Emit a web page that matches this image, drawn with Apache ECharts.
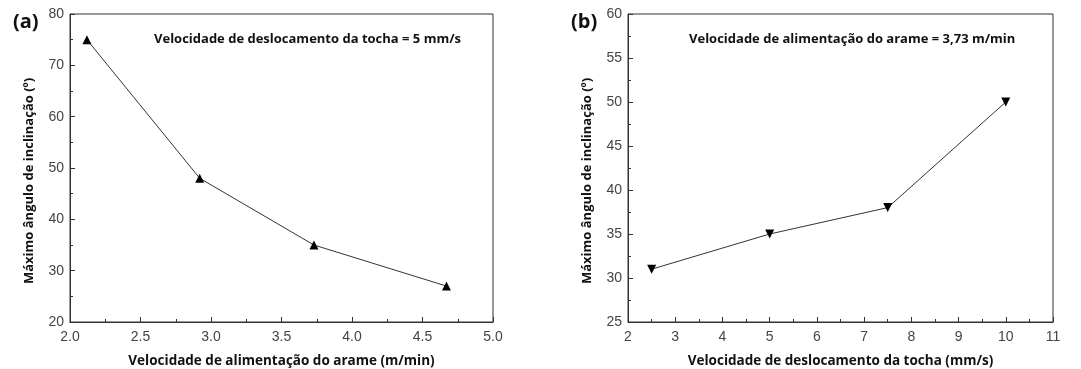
<!DOCTYPE html>
<html>
<head>
<meta charset="utf-8">
<script src="https://cdn.jsdelivr.net/npm/echarts@6/dist/echarts.min.js"></script>
<style>
  html, body { margin: 0; padding: 0; background: #fff; }
  #chart { width: 1081px; height: 369px; }
</style>
</head>
<body>
<div id="chart"></div>
<script>
// (a) velocidade do arame vs angulo
const feedSpeed = [2.12, 2.92, 3.73, 4.67]
const angleA = [75, 48, 35, 27]
// (b) velocidade da tocha vs angulo
const torchSpeed = [2.5, 5, 7.5, 10]
const angleB = [31, 35, 38, 50]

const labelFont = 'Liberation Sans, Arial, sans-serif'
const boldFont = 'Open Sans, Lato, sans-serif'
const yTitle = 'Máximo ângulo de inclinação (º)'

function xAxisCfg(gridIndex, min, max, interval, name, fmt) {
  return {
    type: 'value', gridIndex, min, max, interval,
    name, nameLocation: 'middle', nameGap: 32,
    nameTextStyle: { fontFamily: boldFont, fontWeight: 'bold', fontSize: 13.5, color: '#111' },
    axisLine: { lineStyle: { color: '#333', width: 1 } },
    axisTick: { inside: true, length: 5, lineStyle: { color: '#333' } },
    minorTick: { show: true, splitNumber: 2, length: 3, lineStyle: { color: '#333' } },
    axisLabel: { fontFamily: labelFont, fontSize: 14, color: '#444', margin: 8, formatter: fmt },
    splitLine: { show: false }
  }
}

function yAxisCfg(gridIndex, min, max, interval) {
  return {
    type: 'value', gridIndex, min, max, interval,
    axisLine: { show: true, lineStyle: { color: '#333', width: 1 } },
    axisTick: { show: true, inside: true, length: 5, lineStyle: { color: '#333' } },
    minorTick: { show: true, splitNumber: 2, length: 3, lineStyle: { color: '#333' } },
    axisLabel: { fontFamily: labelFont, fontSize: 14, color: '#444', margin: 6 },
    splitLine: { show: false }
  }
}

function yTitleText(x) {
  return {
    type: 'text', x, y: 181, rotation: Math.PI / 2,
    style: {
      text: yTitle, align: 'center', verticalAlign: 'middle',
      font: 'bold 13px ' + boldFont, fill: '#111'
    }
  }
}

const chart = echarts.init(document.getElementById('chart'))
chart.setOption({
  animation: false,
  backgroundColor: '#fff',
  title: [
    { text: '(a)', left: 8, top: 7, textStyle: { fontFamily: boldFont, fontWeight: 'bold', fontSize: 20, color: '#111' } },
    { text: '(b)', left: 566, top: 7, textStyle: { fontFamily: boldFont, fontWeight: 'bold', fontSize: 20, color: '#111' } },
    { text: 'Velocidade de deslocamento da tocha = 5 mm/s', left: 149, top: 28, textStyle: { fontFamily: boldFont, fontWeight: 'bold', fontSize: 13, color: '#111' } },
    { text: 'Velocidade de alimentação do arame = 3,73 m/min', left: 684, top: 28, textStyle: { fontFamily: boldFont, fontWeight: 'bold', fontSize: 13, color: '#111' } }
  ],
  graphic: [yTitleText(29), yTitleText(587)],
  grid: [
    { left: 70, top: 14, width: 423, height: 308, show: true, borderColor: '#333', borderWidth: 1, outerBoundsMode: 'none' },
    { left: 628, top: 14, width: 425, height: 308, show: true, borderColor: '#333', borderWidth: 1, outerBoundsMode: 'none' }
  ],
  xAxis: [
    xAxisCfg(0, 2.0, 5.0, 0.5, 'Velocidade de alimentação do arame (m/min)', v => v.toFixed(1)),
    xAxisCfg(1, 2, 11, 1, 'Velocidade de deslocamento da tocha (mm/s)')
  ],
  yAxis: [
    yAxisCfg(0, 20, 80, 10),
    yAxisCfg(1, 25, 60, 5)
  ],
  series: [
    {
      type: 'line', xAxisIndex: 0, yAxisIndex: 0,
      data: feedSpeed.map((x, i) => [x, angleA[i]]),
      symbol: 'triangle', symbolSize: 9,
      lineStyle: { color: '#333', width: 1 },
      itemStyle: { color: '#000' }
    },
    {
      type: 'line', xAxisIndex: 1, yAxisIndex: 1,
      data: torchSpeed.map((x, i) => [x, angleB[i]]),
      symbol: 'triangle', symbolRotate: 180, symbolSize: 9,
      lineStyle: { color: '#333', width: 1 },
      itemStyle: { color: '#000' }
    }
  ]
})
</script>
</body>
</html>
